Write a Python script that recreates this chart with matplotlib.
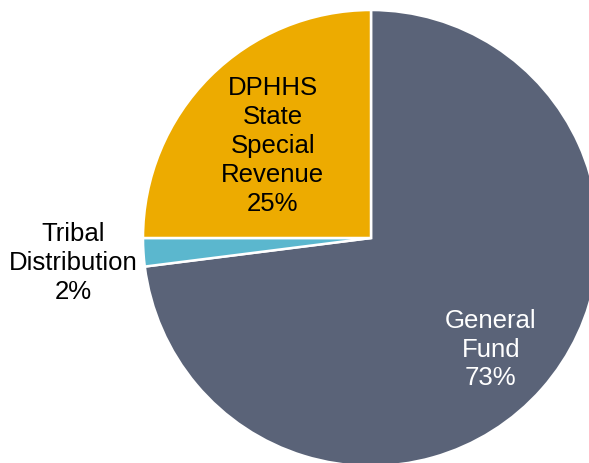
import math
import matplotlib
matplotlib.use("Agg")
import matplotlib.pyplot as plt

plt.rcParams['font.family'] = ['Liberation Sans', 'DejaVu Sans']

# slices, clockwise from the top
labels = ["General\nFund", "Tribal\nDistribution", "DPHHS\nState\nSpecial\nRevenue"]
shares = [73, 2, 25]
colors = ["#5A6378", "#5BB7CE", "#EDAB00"]
text_colors = ["white", "black", "black"]
label_dist = [0.70, 1.31, 0.61]

W, H = 589, 464
fig = plt.figure(figsize=(W / 100, H / 100), dpi=100)
ax = fig.add_axes([0, 0, 1, 1])

cx, cy, r = 371, H - 239, 228
wedges, _ = ax.pie(shares, colors=colors, startangle=90, counterclock=False,
                   center=(cx, cy), radius=r, frame=True,
                   wedgeprops=dict(edgecolor='white', linewidth=1.8))
ax.set_xlim(0, W)
ax.set_ylim(0, H)
ax.set_aspect('equal')
ax.axis('off')

for w, lab, v, tc, d in zip(wedges, labels, shares, text_colors, label_dist):
    mid = math.radians((w.theta1 + w.theta2) / 2)
    x = cx + d * r * math.cos(mid)
    y = cy + d * r * math.sin(mid) - 5  # nudge down a little
    ax.text(x, y, f"{lab}\n{v}%", ha='center', va='center', color=tc,
            fontsize=18.5, linespacing=1.26)

plt.savefig("out.png", dpi=100)
